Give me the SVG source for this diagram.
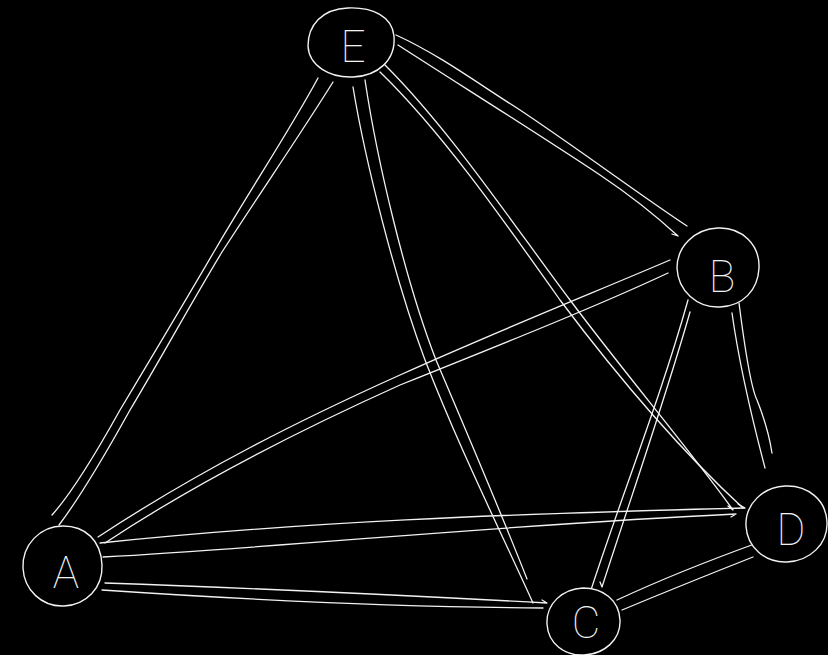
<svg xmlns="http://www.w3.org/2000/svg" width="828" height="655" viewBox="0 0 828 655">
<style>
.s{fill:none;stroke:#f2f2f2;stroke-width:1.3;stroke-linecap:round;stroke-linejoin:round}
.n{fill:#000;stroke:#f2f2f2;stroke-width:1.4;stroke-linecap:round}
.t{fill:#f2f2f2;font-family:"Roboto","DejaVu Sans",sans-serif;font-weight:100;font-size:44px;text-anchor:middle}
</style>
<rect x="0" y="0" width="828" height="655" fill="#000"/>
<g id="connectors" class="s">
<path d="M318,78 C290,130 250,190 215,250 C180,310 150,360 120,410 C95,455 70,495 52,515"/>
<path d="M333,82 C300,135 262,190 222,252 C190,305 160,360 130,410 C105,455 78,500 59,525"/>
<path d="M396,35 C440,55 480,85 520,110 C580,150 640,195 687,226"/>
<path d="M398,45 C460,85 540,135 600,175 C630,195 655,215 678,236 l-6,-2"/>
<path d="M353,87 C365,160 395,280 425,360 C460,450 500,530 533,603"/>
<path d="M365,80 C377,160 405,280 436,360 C470,440 500,510 527,579"/>
<path d="M380,72 C440,130 500,215 560,300 C620,380 680,450 743,508"/>
<path d="M385,65 C450,130 510,220 570,300 C630,380 690,450 733,510 l-5,-4"/>
<path d="M98,537 C200,470 300,420 400,375 C500,330 600,290 670,260"/>
<path d="M105,543 C200,480 300,430 400,385 C500,345 600,305 668,273"/>
<path d="M100,543 C300,522 500,514 745,508 l-7,-4"/>
<path d="M103,557 C300,546 500,525 736,514 l-5,3"/>
<path d="M105,583 C250,588 400,595 547,603 l-5,-3"/>
<path d="M102,590 C250,600 400,607 543,608"/>
<path d="M688,300 C660,400 620,500 590,593"/>
<path d="M690,312 C665,400 630,500 602,587 l-2,-5"/>
<path d="M732,313 C740,370 755,430 765,468"/>
<path d="M739,303 C745,350 752,390 757,400 C765,420 770,440 772,453"/>
<path d="M617,600 C660,580 710,560 760,542"/>
<path d="M622,610 C670,590 720,570 753,557"/>
</g>
<g id="E">
<path class="n" d="M394,36 C392,16 372,7 348,8 C322,9 308,25 308,46 C309,66 330,78 353,77 C378,76 396,60 394,36 Z"/>
<text class="t" x="353" y="62">E</text>
</g>
<g id="B">
<path class="n" d="M759,268 C760,245 742,227 718,228 C694,229 677,247 677,268 C678,291 697,308 720,307 C743,306 758,290 759,268 Z"/>
<text class="t" x="722" y="292">B</text>
</g>
<g id="A">
<path class="n" d="M102,565 C101,540 85,526 63,526 C40,526 22,545 23,568 C24,590 42,607 64,606 C86,605 103,588 102,565 Z"/>
<text class="t" x="66" y="588">A</text>
</g>
<g id="C">
<path class="n" d="M620,620 C619,600 603,588 583,588 C562,589 546,604 547,624 C548,643 564,656 584,655 C604,654 621,640 620,620 Z"/>
<text class="t" x="586" y="638">C</text>
</g>
<g id="D">
<path class="n" d="M827,522 C826,500 808,485 785,486 C763,487 745,504 746,526 C747,547 765,563 787,562 C810,561 828,544 827,522 Z"/>
<text class="t" x="791" y="545">D</text>
</g>
</svg>
